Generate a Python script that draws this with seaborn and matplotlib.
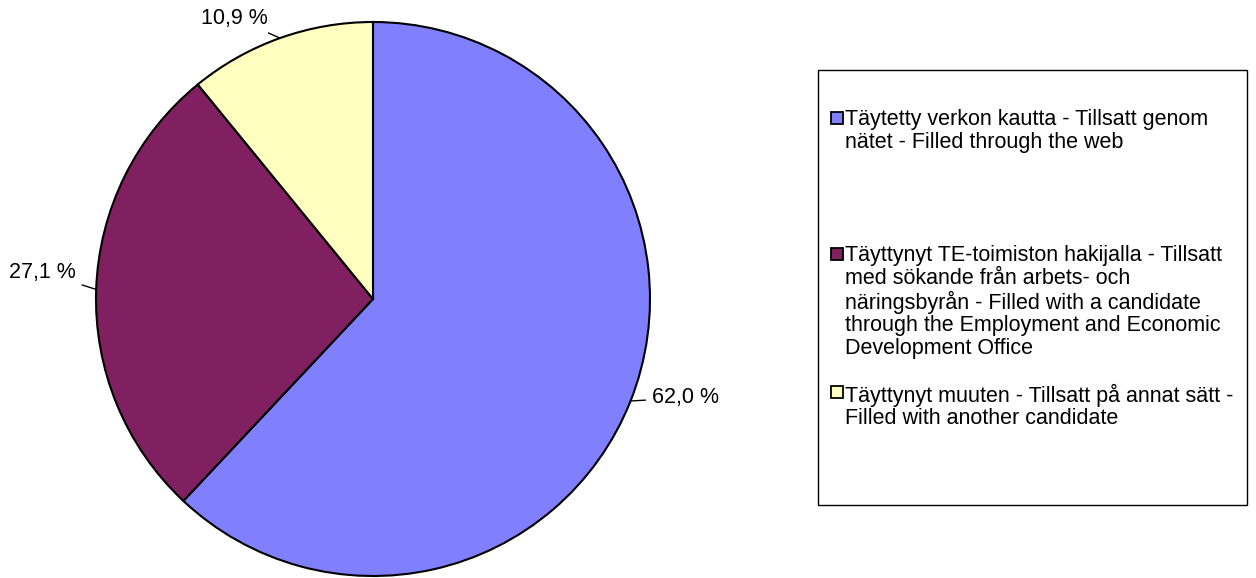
import matplotlib
matplotlib.use("Agg")
from matplotlib import pyplot as plt
from matplotlib.patches import Rectangle
from matplotlib.lines import Line2D
import numpy as np
import seaborn as sns

# data
categories = [
    "Täytetty verkon kautta - Tillsatt genom\nnätet - Filled through the web",
    "Täyttynyt TE-toimiston hakijalla - Tillsatt\nmed sökande från arbets- och\n"
    "näringsbyrån - Filled with a candidate\nthrough the Employment and Economic\n"
    "Development Office",
    "Täyttynyt muuten - Tillsatt på annat sätt -\nFilled with another candidate",
]
shares = [62.0, 27.1, 10.9]
value_labels = ["62,0 %", "27,1 %", "10,9 %"]
colors = ["#8080FF", "#802060", "#FFFFC0"]

# label offsets from the arc, in pixels (layout only)
label_offsets = [(21, 3), (-20, 17), (-12, 20)]

sns.set_theme(style="white")
plt.rcParams['font.family'] = ['Liberation Sans', 'DejaVu Sans']
plt.rcParams['text.color'] = 'black'

fig = plt.figure(figsize=(12.56, 5.78), dpi=100)
W, H = 1256, 578
# pie axes, centre ~ (373, 299) px from top-left, radius ~277 px
r_px = 277
lim = 1.1
side = 2 * r_px * lim
cx, cy = 373, H - 299
ax = fig.add_axes([(cx - side / 2) / W, (cy - side / 2) / H, side / W, side / H])

wedges, _ = ax.pie(shares, colors=colors, startangle=90, counterclock=False,
                   wedgeprops=dict(edgecolor="black", linewidth=1.5))
ax.set_xlim(-lim, lim)
ax.set_ylim(-lim, lim)
ax.set_aspect("equal")
ax.axis("off")

# value labels with short leader lines
for w, lab, off in zip(wedges, value_labels, label_offsets):
    ang = np.deg2rad((w.theta1 + w.theta2) / 2)
    x, y = np.cos(ang), np.sin(ang)
    ha = "left" if off[0] > 0 else "right"
    ax.annotate(lab, xy=(x, y), xytext=off, textcoords="offset pixels",
                ha=ha, va="center", fontsize=15.5, color="black",
                arrowprops=dict(arrowstyle="-", color="black", lw=1, shrinkA=2, shrinkB=0),
                annotation_clip=False)

# legend frame
fig.patches.append(Rectangle((818 / W, 1 - 505 / H), (1247 - 818) / W, (505 - 70) / H,
                             transform=fig.transFigure, fill=False, edgecolor="black", lw=1))
handles = [Line2D([], [], marker="s", linestyle="none", markersize=8.5,
                  markerfacecolor=c, markeredgecolor="black", markeredgewidth=1.3)
           for c in colors]
leg_labels = [categories[0] + "\n\n\n", categories[1], categories[2]]
leg = fig.legend(handles, leg_labels, loc="upper left", bbox_to_anchor=(829 / W, 1 - 109 / H),
                 frameon=False, fontsize=15.5, handlelength=0.7, handleheight=1.0,
                 handletextpad=0.05, labelspacing=1.15, borderpad=0, borderaxespad=0,
                 labelcolor="black")
for t in leg.get_texts():
    t.set_linespacing(1.1)
# put each marker next to the first line of its label
for col in leg._legend_handle_box.get_children():
    for row in col.get_children():
        row.align = "top"

fig.savefig("out.png", dpi=100)
